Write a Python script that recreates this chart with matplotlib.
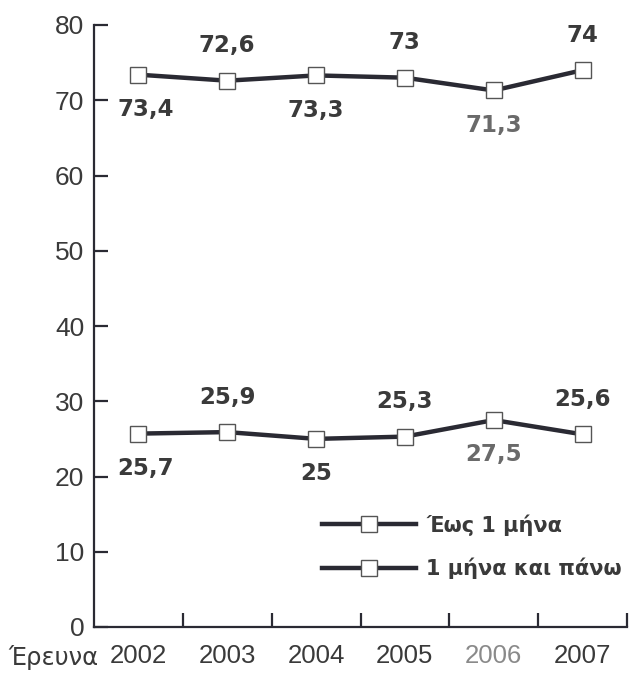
import matplotlib
matplotlib.use("Agg")
import matplotlib.pyplot as plt
from matplotlib.lines import Line2D

# Survey years and the two duration series (percent)
years = ["2002", "2003", "2004", "2005", "2006", "2007"]
up_to_month = [73.4, 72.6, 73.3, 73.0, 71.3, 74.0]
month_and_over = [25.7, 25.9, 25.0, 25.3, 27.5, 25.6]
series_names = ["Έως 1 μήνα", "1 μήνα και πάνω"]
# which side of the point each value label sits on (+1 above, -1 below)
up_label_side = [-1, 1, -1, 1, -1, 1]
over_label_side = [-1, 1, -1, 1, -1, 1]
x_caption = "Έρευνα"

ink = "#2a2a33"
text_col = "#3a3a3a"

fig = plt.figure(figsize=(6.31, 6.73), dpi=100)
ax = fig.add_axes([94 / 631, 1 - 627 / 673, (627 - 94) / 631, (627 - 25) / 673])

x = list(range(len(years)))
marker_style = dict(marker="s", markersize=11, markerfacecolor="white",
                    markeredgecolor="#555555", markeredgewidth=1.0)

for vals in (up_to_month, month_and_over):
    ax.plot(x, vals, color=ink, linewidth=3.2, zorder=2, **marker_style)


def fmt(v):
    s = f"{v:.1f}".rstrip("0").rstrip(".")
    return s.replace(".", ",")


for vals, sides in ((up_to_month, up_label_side), (month_and_over, over_label_side)):
    for xi, v, sd in zip(x, vals, sides):
        col = "#6a6a6a" if years[xi] == "2006" else text_col
        ax.annotate(fmt(v), (xi, v), xytext=(5 if xi == 0 else 0, 25 * sd),
                    textcoords="offset points", ha="center", va="center",
                    fontsize=16.5, fontweight="bold", color=col,
                    family="DejaVu Sans")

ax.set_xlim(-0.5, len(years) - 0.5)
ax.set_ylim(0, 80)

for sp in ("top", "right"):
    ax.spines[sp].set_visible(False)
for sp in ("left", "bottom"):
    ax.spines[sp].set_color(ink)
    ax.spines[sp].set_linewidth(1.6)

ax.set_yticks(range(0, 81, 10))
ax.tick_params(axis="y", direction="in", length=10, width=1.6, color=ink,
               pad=7, labelsize=19, labelcolor=text_col)
for lab in ax.get_yticklabels():
    lab.set_family("Liberation Sans")

ax.set_xticks(x)
ax.set_xticklabels(years, family="Liberation Sans")
ax.tick_params(axis="x", which="major", length=0, pad=12, labelsize=18.5,
               labelcolor=text_col)
ax.set_xticks([i + 0.5 for i in x], minor=True)
ax.tick_params(axis="x", which="minor", direction="in", length=10, width=1.6,
               color=ink)
ax.get_xticklabels()[4].set_color("#8a8a8a")

fig.text(98 / 631, 1 - 658 / 673, x_caption, ha="right", va="center",
         fontsize=17.5, color=text_col, family="DejaVu Sans")

handles = [Line2D([0], [0], color=ink, linewidth=3.2, **marker_style)
           for _ in series_names]
ax.legend(handles, series_names, loc="center left",
          bbox_to_anchor=(322 / 631, 1 - 546.5 / 673),
          bbox_transform=fig.transFigure, frameon=False, numpoints=1,
          handlelength=4.5, handletextpad=0.5, labelspacing=1.05,
          borderpad=0, borderaxespad=0,
          prop=dict(family="DejaVu Sans", weight="bold", size=15),
          labelcolor=text_col)

fig.savefig("out.png", dpi=100, facecolor="white")
